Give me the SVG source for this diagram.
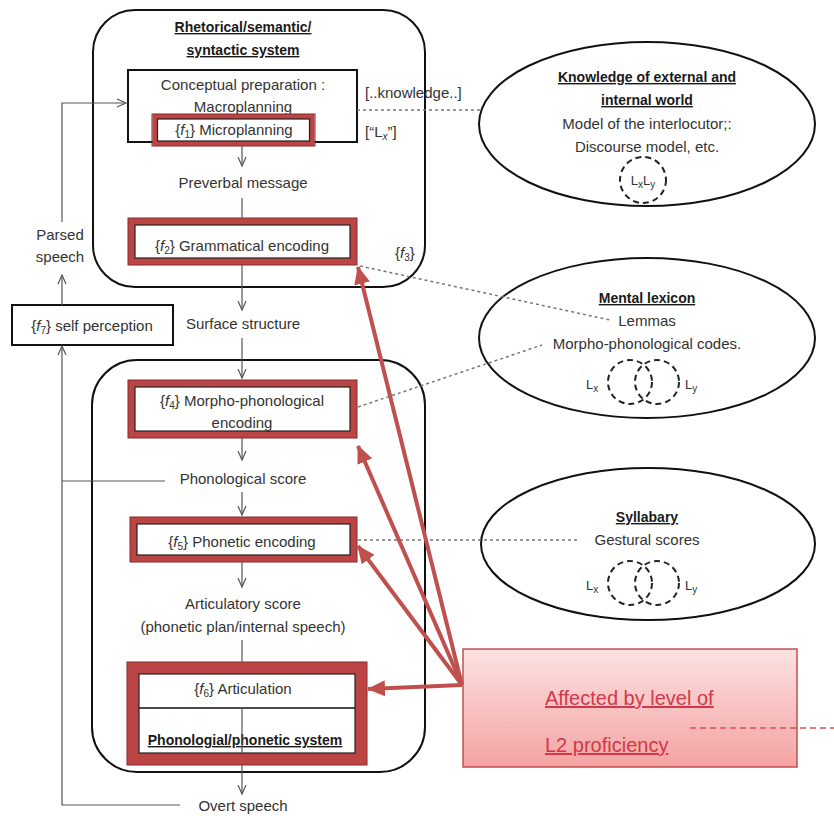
<svg xmlns="http://www.w3.org/2000/svg" width="834" height="816" viewBox="0 0 834 816">
<style>
text{font-family:"Liberation Sans","Open Sans",Arial,sans-serif;font-size:15px;fill:#333}
.c{text-anchor:middle}
.b{font-weight:bold;fill:#1a1a1a;font-size:14px;text-decoration:underline}
.it{font-style:italic}
.sub{font-size:10px}
.sys{fill:none;stroke:#111;stroke-width:2}
.box{fill:#fff;stroke:#111;stroke-width:2}
.red{fill:#fff;stroke:#bb4444;stroke-width:7}
.redo{fill:none;stroke:#8a2a2a;stroke-width:1}
.redin{fill:none;stroke:#222;stroke-width:1.2}
.ell{fill:#fff;stroke:#111;stroke-width:2}
.dc{fill:none;stroke:#222;stroke-width:2;stroke-dasharray:6 4}
.ln{fill:none;stroke:#555;stroke-width:1.2}
.dot{fill:none;stroke:#777;stroke-width:1.5;stroke-dasharray:3 3}
.rarr{fill:none;stroke:#c0504d;stroke-width:4;marker-end:url(#rh)}
.ah{marker-end:url(#ah)}
.lbl{font-size:20px;fill:#d0394a;text-decoration:underline}
</style>
<defs>
<marker id="ah" markerUnits="userSpaceOnUse" markerWidth="12" markerHeight="10" refX="10" refY="5" orient="auto">
<path d="M1,1 L10,5 L1,9" fill="none" stroke="#555" stroke-width="1.2"/>
</marker>
<marker id="rh" markerUnits="userSpaceOnUse" markerWidth="18" markerHeight="16" refX="17" refY="8" orient="auto">
<path d="M0,0 L18,8 L0,16 z" fill="#c0504d"/>
</marker>
<linearGradient id="pink" x1="0" y1="0" x2="0" y2="1">
<stop offset="0" stop-color="#fde2e2"/>
<stop offset="1" stop-color="#f4a3a3"/>
</linearGradient>
</defs>

<rect width="834" height="816" fill="#fff"/>

<g id="rhetorical-system">
<rect class="sys" x="93" y="10" width="332" height="277" rx="42"/>
<text class="c b" x="243" y="32">Rhetorical/semantic/</text>
<text class="c b" x="243" y="55">syntactic system</text>
<text x="395" y="258"><tspan>{</tspan><tspan class="it">f</tspan><tspan class="sub" dy="3">3</tspan><tspan dy="-3">}</tspan></text>
</g>

<g id="phonological-system">
<rect class="sys" x="92" y="360" width="333" height="412" rx="45"/>
</g>

<g id="conceptual">
<rect class="box" x="128" y="70" width="229" height="72"/>
<text class="c" x="243" y="90">Conceptual preparation :</text>
<text class="c" x="243" y="112">Macroplanning</text>
<text x="365" y="98">[..knowledge..]</text>
<text x="365" y="137">[“L<tspan class="it sub" dy="3">x</tspan><tspan dy="-3">”]</tspan></text>
</g>

<g id="microplanning">
<rect class="red" x="155" y="116.5" width="157" height="27" style="stroke-width:5"/>
<rect class="redo" x="152" y="114" width="163" height="32"/>
<rect class="redin" x="157.5" y="119" width="152" height="22"/>
<text class="c" x="234" y="135">{<tspan class="it">f</tspan><tspan class="sub" dy="3">1</tspan><tspan dy="-3">} Microplanning</tspan></text>
</g>

<g id="preverbal">
<text class="c" x="243" y="188">Preverbal message</text>
</g>

<g id="grammatical">
<rect class="red" x="131.5" y="221.5" width="222" height="40"/>
<rect class="redo" x="128" y="218" width="229" height="47"/>
<rect class="redin" x="135" y="225" width="215" height="33"/>
<text class="c" x="242" y="251">{<tspan class="it">f</tspan><tspan class="sub" dy="3">2</tspan><tspan dy="-3">}  Grammatical encoding</tspan></text>
</g>

<g id="surface">
<text class="c" x="243" y="329">Surface structure</text>
</g>

<g id="self-perception">
<rect class="box" x="12" y="305" width="161" height="40"/>
<text class="c" x="92" y="331">{<tspan class="it">f</tspan><tspan class="sub" dy="3">7</tspan><tspan dy="-3">}  self perception</tspan></text>
</g>

<g id="parsed">
<text class="c" x="60" y="240">Parsed</text>
<text class="c" x="60" y="262">speech</text>
</g>

<g id="morpho">
<rect class="red" x="131.5" y="383.5" width="222" height="51"/>
<rect class="redo" x="128" y="380" width="229" height="58"/>
<rect class="redin" x="135" y="387" width="215" height="44"/>
<text class="c" x="242" y="406">{<tspan class="it">f</tspan><tspan class="sub" dy="3">4</tspan><tspan dy="-3">}  Morpho-phonological</tspan></text>
<text class="c" x="242" y="428">encoding</text>
</g>

<g id="phonological-score">
<text class="c" x="243" y="484">Phonological score</text>
</g>

<g id="phonetic">
<rect class="red" x="133.5" y="520.5" width="220" height="38"/>
<rect class="redo" x="130" y="517" width="227" height="45"/>
<rect class="redin" x="137" y="524" width="213" height="31"/>
<text class="c" x="242" y="547">{<tspan class="it">f</tspan><tspan class="sub" dy="3">5</tspan><tspan dy="-3">}  Phonetic encoding</tspan></text>
</g>

<g id="articulatory-score">
<text class="c" x="243" y="609">Articulatory score</text>
<text class="c" x="243" y="632">(phonetic plan/internal speech)</text>
</g>

<g id="articulation">
<rect class="red" x="133" y="668" width="228" height="91" style="stroke-width:12"/>
<rect class="redo" x="127" y="662" width="240" height="103"/>
<rect class="redin" x="139" y="674" width="216" height="79"/>
<line x1="139" y1="708" x2="355" y2="708" stroke="#111" stroke-width="1.5"/>
<text class="c" x="243" y="694">{<tspan class="it">f</tspan><tspan class="sub" dy="3">6</tspan><tspan dy="-3">}  Articulation</tspan></text>
<text class="c b" x="245" y="745">Phonologial/phonetic system</text>
</g>

<g id="overt">
<text class="c" x="243" y="811">Overt speech</text>
</g>

<g id="knowledge">
<ellipse class="ell" cx="647" cy="124" rx="168" ry="82"/>
<text class="c b" x="647" y="82">Knowledge of external and</text>
<text class="c b" x="647" y="105">internal world</text>
<text class="c" x="647" y="129">Model of the interlocutor;:</text>
<text class="c" x="647" y="152">Discourse model, etc.</text>
<circle class="dc" cx="643" cy="180" r="23"/>
<text class="c" x="643" y="185" style="font-size:13px">L<tspan class="sub" dy="3">x</tspan><tspan dy="-3">L</tspan><tspan class="sub" dy="3">y</tspan></text>
</g>

<g id="lexicon">
<ellipse class="ell" cx="647" cy="338" rx="168" ry="80"/>
<text class="c b" x="647" y="303">Mental lexicon</text>
<text class="c" x="647" y="326">Lemmas</text>
<text class="c" x="647" y="349">Morpho-phonological  codes.</text>
<circle class="dc" cx="630" cy="382" r="22"/>
<circle class="dc" cx="657" cy="382" r="22"/>
<text x="586" y="389" style="font-size:13px">L<tspan class="sub" dy="3">x</tspan></text>
<text x="685" y="389" style="font-size:13px">L<tspan class="sub" dy="3">y</tspan></text>
</g>

<g id="syllabary">
<ellipse class="ell" cx="648" cy="544" rx="167" ry="76"/>
<text class="c b" x="647" y="522">Syllabary</text>
<text class="c" x="647" y="545">Gestural scores</text>
<circle class="dc" cx="630" cy="583" r="22"/>
<circle class="dc" cx="657" cy="583" r="22"/>
<text x="586" y="590" style="font-size:13px">L<tspan class="sub" dy="3">x</tspan></text>
<text x="685" y="590" style="font-size:13px">L<tspan class="sub" dy="3">y</tspan></text>
</g>

<g id="l2-proficiency">
<rect x="463" y="649" width="334" height="118" fill="url(#pink)" stroke="#c0504d" stroke-width="1.5"/>
<text class="lbl" x="545" y="705">Affected by level of</text>
<text class="lbl" x="545" y="752">L2 proficiency</text>
</g>

<g id="connectors">
<line class="ln ah" x1="242" y1="146" x2="242" y2="166"/>
<line class="ln" x1="242" y1="198" x2="242" y2="218"/>
<line class="ln ah" x1="242" y1="265" x2="242" y2="310"/>
<line class="ln ah" x1="242" y1="338" x2="242" y2="378"/>
<line class="ln ah" x1="242" y1="438" x2="242" y2="460"/>
<line class="ln ah" x1="242" y1="492" x2="242" y2="515"/>
<line class="ln ah" x1="242" y1="562" x2="242" y2="587"/>
<line class="ln" x1="242" y1="640" x2="242" y2="662"/>
<line class="ln" x1="242" y1="708" x2="242" y2="753"/>
<line class="ln ah" x1="242" y1="765" x2="242" y2="794"/>
<polyline class="ln ah" points="180,805 62,805 62,346"/>
<line class="ln" x1="62" y1="481" x2="165" y2="481"/>
<line class="ln ah" x1="62" y1="305" x2="62" y2="275"/>
<polyline class="ln ah" points="62,222 62,103 126,103"/>
<line class="dot" x1="357" y1="110" x2="482" y2="110"/>
<line class="dot" x1="360" y1="266" x2="610" y2="320"/>
<line class="dot" x1="358" y1="407" x2="542" y2="345"/>
<line class="dot" x1="358" y1="540" x2="578" y2="540"/>
<line x1="690" y1="728" x2="834" y2="728" stroke="#d9534f" stroke-width="1.5" stroke-dasharray="6 4"/>
<line class="rarr" x1="462" y1="685" x2="358" y2="267"/>
<line class="rarr" x1="462" y1="685" x2="358" y2="446"/>
<line class="rarr" x1="462" y1="685" x2="358" y2="546"/>
<line class="rarr" x1="462" y1="685" x2="368" y2="689"/>
</g>
</svg>
